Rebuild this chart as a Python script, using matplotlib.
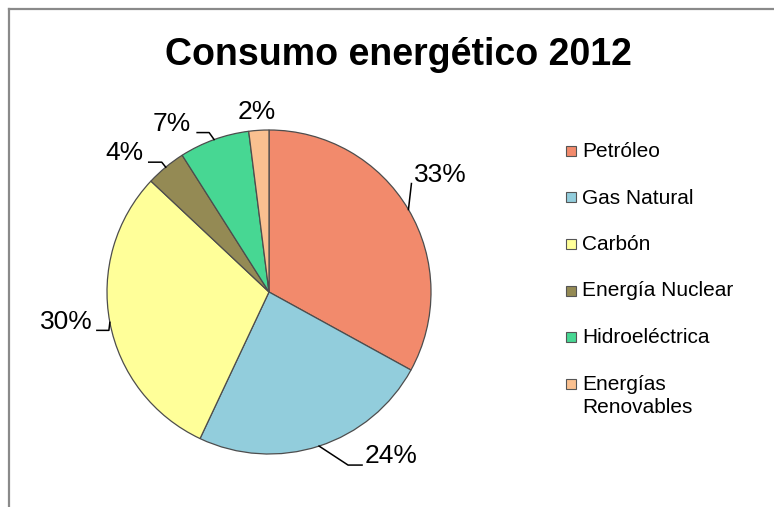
import matplotlib
matplotlib.use("Agg")
import matplotlib.pyplot as plt
from matplotlib.patches import Rectangle
from matplotlib.lines import Line2D
import numpy as np

plt.rcParams['font.family'] = ['Liberation Sans', 'DejaVu Sans']

title = "Consumo energético 2012"
categories = ["Petróleo", "Gas Natural", "Carbón", "Energía Nuclear",
              "Hidroeléctrica", "Energías\nRenovables"]
values = [33, 24, 30, 4, 7, 2]
pct_labels = ["33%", "24%", "30%", "4%", "7%", "2%"]
colors = ["#F28A6C", "#92CDDC", "#FFFF99", "#948A54", "#47D793", "#FAC090"]

W, H = 774, 507
fig = plt.figure(figsize=(W / 100, H / 100), dpi=100)
ax = fig.add_axes([0, 0, 1, 1])

cx, cy, r = 269, H - 292, 162
wedges, _ = ax.pie(values, colors=colors, startangle=90, counterclock=False,
                   center=(cx, cy), radius=r,
                   wedgeprops=dict(edgecolor="#4d4d4d", linewidth=0.9))
ax.set_xlim(0, W)
ax.set_ylim(0, H)
ax.set_aspect("equal")
ax.axis("off")

# label layout: (text offset from edge anchor, leader polyline offsets)
label_style = [
    dict(text=(32, 35), path=[(0, 0), (3, 26)]),
    dict(text=(72, -10), path=[(0, 0), (29, -19), (43, -19)]),
    dict(text=(-44, 0), path=[(0, 0), (-1, -8), (-13, -8)]),
    dict(text=(-41, 14), path=[(0, 0), (-4, 5), (-17, 5)]),
    dict(text=(-42, 16), path=[(0, 0), (-5, 7), (-17, 7)]),
    dict(text=(-2, 18), path=None),
]
for w, lab, st in zip(wedges, pct_labels, label_style):
    mid = np.deg2rad((w.theta1 + w.theta2) / 2)
    ex, ey = cx + r * np.cos(mid), cy + r * np.sin(mid)
    ax.text(ex + st["text"][0], ey + st["text"][1], lab, fontsize=19,
            ha="center", va="center", color="black")
    if st["path"]:
        xs = [ex + p[0] for p in st["path"]]
        ys = [ey + p[1] for p in st["path"]]
        ax.add_line(Line2D(xs, ys, color="black", lw=1.1))

fig.text(398 / W, 1 - 55 / H, title, fontsize=27, fontweight="bold",
         ha="center", va="center")

# legend
ly0, pitch = 151, 46.5
for i, (lab, col) in enumerate(zip(categories, colors)):
    y = ly0 + i * pitch
    fig.add_artist(Rectangle((566 / W, 1 - (y + 5) / H), 10 / W, 10 / H,
                             transform=fig.transFigure, facecolor=col,
                             edgecolor="#555555", lw=0.8))
    fig.text(582 / W, 1 - (y - 9) / H, lab, fontsize=15, ha="left", va="top",
             linespacing=1.3)

# chart frame (left and top visible)
fig.add_artist(Line2D([8.5 / W, 8.5 / W], [0, 1 - 8.5 / H], transform=fig.transFigure,
                      color="#8a8a8a", lw=1.6))
fig.add_artist(Line2D([8.5 / W, 1], [1 - 8.5 / H, 1 - 8.5 / H], transform=fig.transFigure,
                      color="#8a8a8a", lw=1.6))

fig.savefig("out.png", dpi=100)
